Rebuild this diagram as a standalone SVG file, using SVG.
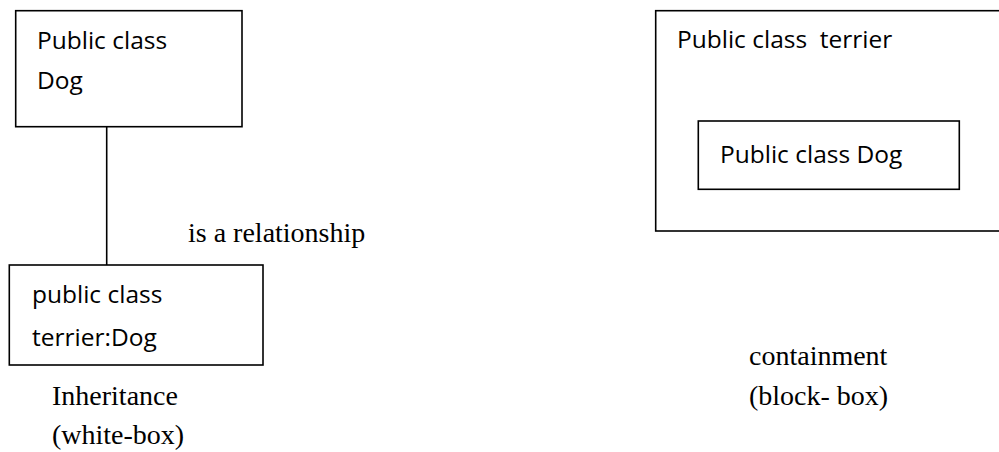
<svg xmlns="http://www.w3.org/2000/svg" width="999" height="452" viewBox="0 0 999 452">
<style>
.box{fill:#fff;stroke:#000;stroke-width:1.6}
.sans{font-family:"Open Sans","Liberation Sans",sans-serif;font-size:24.5px;fill:#000;white-space:pre}
.serif{font-family:"Liberation Serif","Times New Roman",serif;font-size:28px;fill:#000;white-space:pre}
.conn{stroke:#000;stroke-width:1.6;fill:none}
</style>
<rect width="999" height="452" fill="#fff"/>
<g id="connectors">
<line class="conn" x1="106.7" y1="126.7" x2="106.7" y2="265"/>
</g>
<g id="dog">
<rect class="box" x="15.7" y="10.7" width="226.3" height="116"/>
<text class="sans" x="37" y="49">Public class</text>
<text class="sans" x="37" y="89">Dog</text>
</g>
<g id="terrier-dog">
<rect class="box" x="9.3" y="265" width="253.7" height="100"/>
<text class="sans" x="32" y="303">public class</text>
<text class="sans" x="32" y="346">terrier:Dog</text>
</g>
<g id="terrier">
<rect class="box" x="655.7" y="10.7" width="360" height="220.3"/>
<text class="sans" x="677" y="48">Public class  terrier</text>
</g>
<g id="inner-dog">
<rect class="box" x="698.3" y="121" width="261" height="68.3"/>
<text class="sans" x="720" y="163">Public class Dog</text>
</g>
<g id="labels">
<text class="serif" x="188" y="242">is a relationship</text>
<text class="serif" x="52" y="405">Inheritance</text>
<text class="serif" x="52" y="444">(white-box)</text>
<text class="serif" x="749" y="365">containment</text>
<text class="serif" x="749" y="405">(block- box)</text>
</g>
</svg>
